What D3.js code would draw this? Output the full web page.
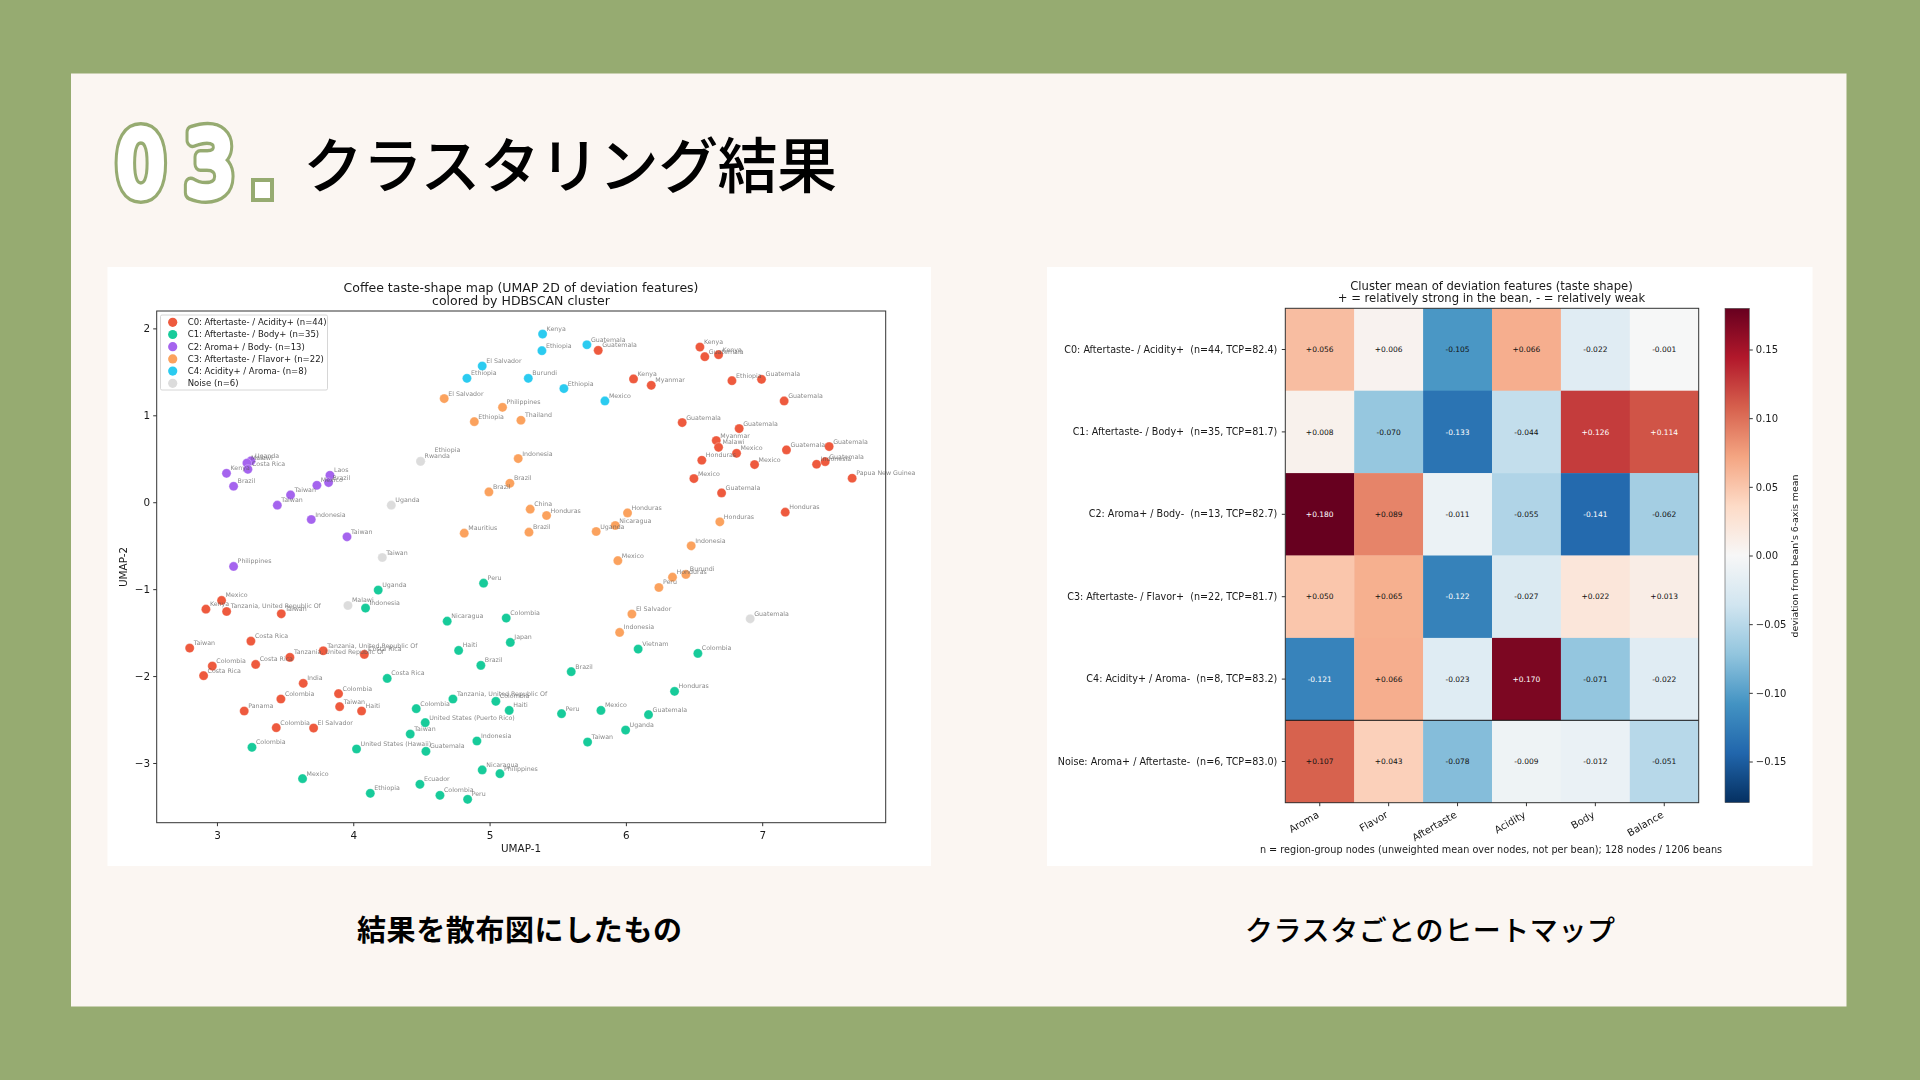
<!DOCTYPE html>
<html lang="ja">
<head>
<meta charset="utf-8">
<title>クラスタリング結果</title>
<script src="https://cdn.jsdelivr.net/npm/d3@7"></script>
<style>
  html, body { margin: 0; padding: 0; background: #96ab71; }
  svg { display: block; }
  text { font-family: "DejaVu Sans", sans-serif; fill: #1a1a1a; white-space: pre; }
  .jp text, text.jp { font-family: "Noto Sans CJK JP", sans-serif; fill: #000; }
  .tick line, .domain { stroke: #333; }
  .chart { filter: blur(0.35px); }
</style>
</head>
<body>
<svg id="slide" width="1920" height="1080"></svg>
<script>
// ---- scatter data: [UMAP-1, UMAP-2, region label] ----
const pointsC0 = [
  [5.797,1.747,'Guatemala'],[6.543,1.785,'Kenya'],[6.579,1.674,'Guatemala'],[6.68,1.697,'Kenya'],
  [6.056,1.418,'Kenya'],[6.186,1.345,'Myanmar'],[6.778,1.398,'Ethiopia'],[6.995,1.414,'Guatemala'],
  [7.161,1.165,'Guatemala'],[6.413,0.916,'Guatemala'],[6.831,0.847,'Guatemala'],[6.663,0.709,'Myanmar'],
  [6.68,0.632,'Malawi'],[6.812,0.563,'Mexico'],[6.557,0.483,'Honduras'],[6.944,0.433,'Mexico'],
  [7.178,0.602,'Guatemala'],[7.491,0.64,'Guatemala'],[7.399,0.437,'Indonesia'],[7.462,0.467,'Guatemala'],
  [7.66,0.276,'Papua New Guinea'],[6.499,0.272,'Mexico'],[6.702,0.107,'Guatemala'],[7.169,-0.115,'Honduras'],
  [3.034,-1.13,'Mexico'],[2.919,-1.23,'Kenya'],[3.071,-1.257,'Tanzania, United Republic Of'],[3.472,-1.284,'Taiwan'],
  [3.249,-1.598,'Costa Rica'],[2.8,-1.678,'Taiwan'],[3.78,-1.709,'Tanzania, United Republic Of'],[4.081,-1.751,'Costa Rica'],
  [3.535,-1.785,'Tanzania, United Republic Of'],[3.284,-1.866,'Costa Rica'],[2.966,-1.885,'Colombia'],[2.902,-1.996,'Costa Rica'],
  [3.633,-2.084,'India'],[3.469,-2.264,'Colombia'],[3.892,-2.203,'Colombia'],[3.9,-2.352,'Taiwan'],
  [4.061,-2.402,'Haiti'],[3.2,-2.402,'Panama'],[3.435,-2.594,'Colombia'],[3.709,-2.598,'El Salvador']
];
const pointsC1 = [
  [4.183,-1.011,'Uganda'],[4.09,-1.218,'Indonesia'],[4.956,-0.931,'Peru'],[4.689,-1.368,'Nicaragua'],
  [5.122,-1.333,'Colombia'],[5.152,-1.613,'Japan'],[4.773,-1.705,'Haiti'],[4.936,-1.877,'Brazil'],
  [4.249,-2.027,'Costa Rica'],[4.731,-2.264,'Tanzania, United Republic Of'],[4.462,-2.375,'Colombia'],[5.046,-2.291,'Colombia'],
  [5.144,-2.395,'Haiti'],[4.528,-2.536,'United States (Puerto Rico)'],[4.418,-2.667,'Taiwan'],[4.907,-2.747,'Indonesia'],
  [4.024,-2.839,'United States (Hawaii)'],[4.533,-2.866,'Guatemala'],[3.257,-2.82,'Colombia'],[3.628,-3.18,'Mexico'],
  [4.125,-3.349,'Ethiopia'],[4.489,-3.245,'Ecuador'],[4.636,-3.372,'Colombia'],[4.839,-3.418,'Peru'],
  [4.946,-3.08,'Nicaragua'],[5.076,-3.123,'Philippines'],[6.09,-1.69,'Vietnam'],[6.528,-1.739,'Colombia'],
  [5.599,-1.95,'Brazil'],[6.357,-2.176,'Honduras'],[5.528,-2.433,'Peru'],[5.817,-2.395,'Mexico'],
  [6.166,-2.444,'Guatemala'],[5.998,-2.621,'Uganda'],[5.719,-2.759,'Taiwan']
];
const pointsC2 = [
  [3.249,0.475,'Uganda'],[3.22,0.45,'Malawi'],[3.227,0.379,'Costa Rica'],[3.07,0.333,'Kenya'],
  [3.122,0.184,'Brazil'],[3.829,0.31,'Laos'],[3.819,0.226,'Brazil'],[3.733,0.195,'Mexico'],
  [3.54,0.084,'Taiwan'],[3.443,-0.034,'Taiwan'],[3.692,-0.199,'Indonesia'],[3.954,-0.398,'Taiwan'],
  [3.122,-0.739,'Philippines']
];
const pointsC3 = [
  [4.667,1.192,'El Salvador'],[5.095,1.092,'Philippines'],[4.888,0.927,'Ethiopia'],[5.23,0.943,'Thailand'],
  [5.21,0.502,'Indonesia'],[5.149,0.218,'Brazil'],[4.995,0.119,'Brazil'],[4.814,-0.356,'Mauritius'],
  [5.298,-0.08,'China'],[5.418,-0.153,'Honduras'],[5.289,-0.345,'Brazil'],[5.782,-0.337,'Uganda'],
  [5.922,-0.268,'Nicaragua'],[6.012,-0.123,'Honduras'],[6.689,-0.226,'Honduras'],[6.479,-0.502,'Indonesia'],
  [5.941,-0.672,'Mexico'],[6.342,-0.862,'Honduras'],[6.44,-0.831,'Burundi'],[6.242,-0.981,'Peru'],
  [6.044,-1.287,'El Salvador'],[5.954,-1.498,'Indonesia']
];
const pointsC4 = [
  [4.946,1.567,'El Salvador'],[4.834,1.425,'Ethiopia'],[5.389,1.935,'Kenya'],[5.384,1.743,'Ethiopia'],
  [5.714,1.812,'Guatemala'],[5.284,1.425,'Burundi'],[5.545,1.307,'Ethiopia'],[5.846,1.165,'Mexico']
];
const pointsNoise = [
  [4.494,0.471,'Rwanda'],[4.494,0.471,'Ethiopia'],[4.279,-0.034,'Uganda'],[4.213,-0.636,'Taiwan'],
  [3.961,-1.188,'Malawi'],[6.912,-1.341,'Guatemala']
];
const clusterPoints = [pointsC0, pointsC1, pointsC2, pointsC3, pointsC4, pointsNoise];
const clusterColors = ['#ee5a3e', '#17cb9a', '#a564ee', '#fba25e', '#2bcbf0', '#dcdcdc'];
const legendLabels = [
  'C0: Aftertaste- / Acidity+ (n=44)', 'C1: Aftertaste- / Body+ (n=35)', 'C2: Aroma+ / Body- (n=13)',
  'C3: Aftertaste- / Flavor+ (n=22)', 'C4: Acidity+ / Aroma- (n=8)', 'Noise (n=6)'
];
const xTicks = [3, 4, 5, 6, 7];
const yTicks = [2, 1, 0, -1, -2, -3];

// ---- heatmap data ----
const features = ['Aroma', 'Flavor', 'Aftertaste', 'Acidity', 'Body', 'Balance'];
const rowLabels = [
  'C0: Aftertaste- / Acidity+  (n=44, TCP=82.4)',
  'C1: Aftertaste- / Body+  (n=35, TCP=81.7)',
  'C2: Aroma+ / Body-  (n=13, TCP=82.7)',
  'C3: Aftertaste- / Flavor+  (n=22, TCP=81.7)',
  'C4: Acidity+ / Aroma-  (n=8, TCP=83.2)',
  'Noise: Aroma+ / Aftertaste-  (n=6, TCP=83.0)'
];
const rowC0 = [0.056, 0.006, -0.105, 0.066, -0.022, -0.001];
const rowC1 = [0.008, -0.070, -0.133, -0.044, 0.126, 0.114];
const rowC2 = [0.180, 0.089, -0.011, -0.055, -0.141, -0.062];
const rowC3 = [0.050, 0.065, -0.122, -0.027, 0.022, 0.013];
const rowC4 = [-0.121, 0.066, -0.023, 0.170, -0.071, -0.022];
const rowNoise = [0.107, 0.043, -0.078, -0.009, -0.012, -0.051];
const heatRows = [rowC0, rowC1, rowC2, rowC3, rowC4, rowNoise];
const colorbarTicks = [0.15, 0.10, 0.05, 0, -0.05, -0.10, -0.15];
// matplotlib RdBu_r control colours
const rdbuStops = ['#053061','#2166ac','#4393c3','#92c5de','#d1e5f0','#f7f7f7','#fddbc7','#f4a582','#d6604d','#b2182b','#67001f'];

const svg = d3.select('#slide');

function drawPage() {
  svg.append('rect').attr('width', 1920).attr('height', 1080).attr('fill', '#96ab71');
  svg.append('rect').attr('x', 71).attr('y', 73.5).attr('width', 1775.5).attr('height', 933).attr('fill', '#fbf6f2');
  svg.append('rect').attr('x', 107.5).attr('y', 267).attr('width', 823.5).attr('height', 599).attr('fill', '#fff');
  svg.append('rect').attr('x', 1047).attr('y', 267).attr('width', 765.5).attr('height', 599).attr('fill', '#fff');

  // section number: wide green stroke under a narrower white one gives the fat hollow digit
  [[16, '#96ab71'], [9, '#fff']].forEach(([w, c]) => {
    svg.append('g').selectAll('text').data(['0', '3']).join('text')
      .attr('transform', (d, i) => `translate(${116.5 + i * 68.5},194.7) scale(0.87,1)`).text(d => d)
      .style('font-size', '88px').style('fill', c).style('stroke', c).style('stroke-width', w)
      .style('stroke-linejoin', 'round');
  });
  svg.append('rect').attr('x', 253).attr('y', 180).attr('width', 19).attr('height', 20)
    .attr('fill', '#fff').attr('stroke', '#96ab71').attr('stroke-width', 4);

  svg.append('text').attr('class', 'jp').attr('x', 303).attr('y', 188)
    .style('font-size', '60px').style('font-weight', 500)
    .attr('textLength', 534).text('クラスタリング結果');
  svg.append('text').attr('class', 'jp').attr('x', 357).attr('y', 941)
    .style('font-size', '29px').style('font-weight', 700)
    .attr('textLength', 325).text('結果を散布図にしたもの');
  svg.append('text').attr('class', 'jp').attr('x', 1245).attr('y', 941)
    .style('font-size', '28px').style('font-weight', 500)
    .attr('textLength', 370).text('クラスタごとのヒートマップ');
}

function drawScatter() {
  const left = 156.7, right = 885.7, top = 311, bottom = 822.7;
  const x = d3.scaleLinear().domain([2.558, 7.906]).range([left, right]);
  const y = d3.scaleLinear().domain([2.2, -3.687]).range([top, bottom]);
  const g = svg.append('g').attr('class', 'chart');

  g.append('text').attr('x', 521).attr('y', 291.5).attr('text-anchor', 'middle')
    .style('font-size', '12.5px').text('Coffee taste-shape map (UMAP 2D of deviation features)');
  g.append('text').attr('x', 521).attr('y', 304.5).attr('text-anchor', 'middle')
    .style('font-size', '12.5px').text('colored by HDBSCAN cluster');

  clusterPoints.forEach((pts, i) => {
    g.append('g').selectAll('circle').data(pts).join('circle')
      .attr('cx', d => x(d[0])).attr('cy', d => y(d[1])).attr('r', 4.6)
      .attr('fill', clusterColors[i]).attr('stroke', '#fff').attr('stroke-width', 0.3);
  });
  clusterPoints.forEach(pts => {
    g.append('g').selectAll('text').data(pts).join('text')
      .attr('x', d => x(d[0]) + (d[2] === 'Ethiopia' && pts === pointsNoise ? 14 : 4))
      .attr('y', d => y(d[1]) - (d[2] === 'Ethiopia' && pts === pointsNoise ? 9 : 3))
      .style('font-size', '6.3px').style('fill', '#555').style('opacity', 0.7)
      .text(d => d[2]);
  });

  g.append('rect').attr('x', left).attr('y', top).attr('width', right - left).attr('height', bottom - top)
    .attr('fill', 'none').attr('stroke', '#333').attr('stroke-width', 1);
  const ax = g.append('g').attr('transform', `translate(0,${bottom})`)
    .call(d3.axisBottom(x).tickValues(xTicks).tickFormat(d3.format('d')).tickSize(3.5).tickSizeOuter(0));
  const ay = g.append('g').attr('transform', `translate(${left},0)`)
    .call(d3.axisLeft(y).tickValues(yTicks).tickFormat(d3.format('d')).tickSize(3.5).tickSizeOuter(0));
  ax.selectAll('text').style('font-size', '10.4px').attr('dy', '0.9em');
  ay.selectAll('text').style('font-size', '10.4px');
  ay.select('.domain').remove();
  ax.select('.domain').remove();

  g.append('text').attr('x', 521).attr('y', 852).attr('text-anchor', 'middle').style('font-size', '10.4px').text('UMAP-1');
  g.append('text').attr('transform', 'translate(127,567) rotate(-90)').attr('text-anchor', 'middle')
    .style('font-size', '10.4px').text('UMAP-2');

  // legend box
  const lg = g.append('g');
  lg.append('rect').attr('x', 160.5).attr('y', 315).attr('width', 167).attr('height', 75).attr('rx', 1.5)
    .attr('fill', '#fff').attr('fill-opacity', 0.8).attr('stroke', '#ccc').attr('stroke-width', 0.8);
  const row = lg.selectAll('g').data(legendLabels).join('g')
    .attr('transform', (d, i) => `translate(172.7,${322.3 + i * 12.2})`);
  row.append('circle').attr('r', 4.6).attr('fill', (d, i) => clusterColors[i]);
  row.append('text').attr('x', 15).attr('y', 2.8).style('font-size', '8.5px').text(d => d);
}

function drawHeatmap() {
  const left = 1285.3, right = 1698.7, top = 308.3, bottom = 802.7;
  const x = d3.scaleBand().domain(features).range([left, right]);
  const y = d3.scaleBand().domain(rowLabels).range([top, bottom]);
  const color = d3.scaleLinear().domain(d3.range(11).map(i => -0.18 + i * 0.036)).range(rdbuStops);
  const fmt = d3.format('+.3f');
  const g = svg.append('g').attr('class', 'chart');

  g.append('text').attr('x', 1491.5).attr('y', 289.5).attr('text-anchor', 'middle')
    .style('font-size', '11.6px').text('Cluster mean of deviation features (taste shape)');
  g.append('text').attr('x', 1491.5).attr('y', 302).attr('text-anchor', 'middle')
    .style('font-size', '11.6px').text('+ = relatively strong in the bean, - = relatively weak');

  const rows = g.selectAll('g.row').data(heatRows).join('g').attr('class', 'row')
    .attr('transform', (d, i) => `translate(0,${y(rowLabels[i])})`);
  const cells = rows.selectAll('g').data(d => d).join('g')
    .attr('transform', (d, i) => `translate(${x(features[i])},0)`);
  cells.append('rect').attr('width', x.bandwidth() + 0.3).attr('height', y.bandwidth() + 0.3).attr('fill', d => color(d));
  cells.append('text').attr('x', x.bandwidth() / 2).attr('y', y.bandwidth() / 2 + 2.7).attr('text-anchor', 'middle')
    .style('font-size', '7.5px').style('fill', d => Math.abs(d) > 0.108 ? '#fff' : '#111')
    .text(d => fmt(d).replace('−', '-'));

  // separator above the noise row
  g.append('line').attr('x1', left).attr('x2', right).attr('y1', y(rowLabels[5])).attr('y2', y(rowLabels[5]))
    .attr('stroke', '#111').attr('stroke-width', 1);
  g.append('rect').attr('x', left).attr('y', top).attr('width', right - left).attr('height', bottom - top)
    .attr('fill', 'none').attr('stroke', '#333').attr('stroke-width', 1);

  const ax = g.append('g').attr('transform', `translate(0,${bottom})`)
    .call(d3.axisBottom(x).tickSize(3.5).tickSizeOuter(0));
  ax.select('.domain').remove();
  ax.selectAll('text').attr('text-anchor', 'end').attr('dy', 0).attr('y', 0)
    .attr('transform', 'translate(0,14) rotate(-30)').style('font-size', '10px');
  const ay = g.append('g').attr('transform', `translate(${left},0)`)
    .call(d3.axisLeft(y).tickSize(3.5).tickSizeOuter(0));
  ay.select('.domain').remove();
  ay.selectAll('text').style('font-size', '9.6px').attr('x', -8);

  g.append('text').attr('x', 1491).attr('y', 853).attr('text-anchor', 'middle')
    .style('font-size', '9.7px').text('n = region-group nodes (unweighted mean over nodes, not per bean); 128 nodes / 1206 beans');

  // colorbar
  const cx0 = 1725, cx1 = 1749.3;
  const cy = d3.scaleLinear().domain([0.18, -0.18]).range([top, bottom]);
  const grad = svg.append('defs').append('linearGradient').attr('id', 'rdbu').attr('x1', 0).attr('x2', 0).attr('y1', 1).attr('y2', 0);
  rdbuStops.forEach((c, i) => grad.append('stop').attr('offset', `${i * 10}%`).attr('stop-color', c));
  g.append('rect').attr('x', cx0).attr('y', top).attr('width', cx1 - cx0).attr('height', bottom - top)
    .attr('fill', 'url(#rdbu)').attr('stroke', '#555').attr('stroke-width', 0.6);
  const ac = g.append('g').attr('transform', `translate(${cx1},0)`)
    .call(d3.axisRight(cy).tickValues(colorbarTicks).tickFormat(d3.format('.2f')).tickSize(3.5).tickSizeOuter(0));
  ac.select('.domain').remove();
  ac.selectAll('text').style('font-size', '10px');
  g.append('text').attr('transform', 'translate(1798,556) rotate(-90)').attr('text-anchor', 'middle')
    .style('font-size', '9.4px').text("deviation from bean's 6-axis mean");
}

drawPage();
drawScatter();
drawHeatmap();
</script>
</body>
</html>
